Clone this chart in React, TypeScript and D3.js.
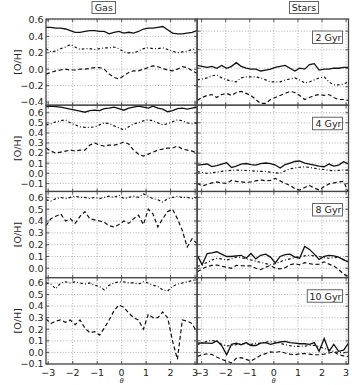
import React from "react";
import * as d3 from "d3";

// ---------- data ----------
const thetaGas = [-3.09, -2.89, -2.69, -2.49, -2.29, -2.1, -1.9, -1.7, -1.5, -1.3, -1.1, -0.9, -0.71, -0.51, -0.31, -0.11, 0.09, 0.29, 0.49, 0.69, 0.89, 1.09, 1.28, 1.48, 1.68, 1.88, 2.08, 2.28, 2.48, 2.68, 2.88, 3.08];
const thetaStars = [-3.18, -2.98, -2.77, -2.57, -2.37, -2.17, -1.96, -1.76, -1.56, -1.36, -1.15, -0.95, -0.75, -0.55, -0.34, -0.14, 0.06, 0.26, 0.47, 0.67, 0.87, 1.07, 1.28, 1.48, 1.68, 1.88, 2.09, 2.29, 2.49, 2.69, 2.9, 3.1];

const ageLabels = ["2 Gyr", "4 Gyr", "8 Gyr", "10 Gyr"];
const columnTitles = ["Gas", "Stars"];
const xTickValues = [-3, -2, -1, 0, 1, 2, 3];

// Gas, 2 Gyr
const gas2Solid = [0.51, 0.51, 0.5, 0.5, 0.49, 0.47, 0.45, 0.45, 0.46, 0.47, 0.47, 0.46, 0.46, 0.43, 0.45, 0.46, 0.44, 0.45, 0.44, 0.46, 0.49, 0.5, 0.5, 0.51, 0.52, 0.48, 0.44, 0.43, 0.43, 0.44, 0.45, 0.47];
const gas2Dotted = [0.25, 0.21, 0.22, 0.25, 0.27, 0.3, 0.27, 0.24, 0.25, 0.25, 0.24, 0.25, 0.26, 0.26, 0.27, 0.25, 0.21, 0.2, 0.2, 0.22, 0.25, 0.26, 0.25, 0.25, 0.26, 0.24, 0.22, 0.2, 0.21, 0.22, 0.24, 0.25];
const gas2Dashed = [-0.06, -0.04, -0.02, -0.01, 0.0, -0.01, -0.01, 0.0, 0.0, 0.01, 0.02, 0.02, 0.0, -0.06, -0.1, -0.12, -0.08, -0.04, -0.02, -0.02, 0.0, 0.02, 0.04, 0.03, 0.01, -0.01, -0.02, 0.0, 0.03, 0.02, -0.02, -0.05];
// Gas, 4 Gyr
const gas4Solid = [0.66, 0.665, 0.66, 0.655, 0.645, 0.635, 0.625, 0.615, 0.605, 0.62, 0.625, 0.62, 0.64, 0.645, 0.655, 0.64, 0.625, 0.645, 0.655, 0.665, 0.655, 0.645, 0.665, 0.645, 0.635, 0.61, 0.62, 0.64, 0.645, 0.635, 0.645, 0.655];
const gas4Dotted = [0.48, 0.49, 0.51, 0.52, 0.53, 0.5, 0.48, 0.46, 0.455, 0.455, 0.46, 0.48, 0.5, 0.49, 0.47, 0.45, 0.43, 0.46, 0.49, 0.5, 0.52, 0.53, 0.52, 0.5, 0.48, 0.49, 0.51, 0.53, 0.52, 0.5, 0.49, 0.5];
const gas4Dashed = [0.25, 0.22, 0.2, 0.21, 0.22, 0.23, 0.22, 0.23, 0.23, 0.28, 0.3, 0.28, 0.27, 0.28, 0.28, 0.29, 0.31, 0.29, 0.23, 0.19, 0.17, 0.19, 0.21, 0.23, 0.24, 0.25, 0.25, 0.27, 0.24, 0.23, 0.22, 0.2];
// Gas, 8 Gyr
const gas8Dotted = [0.58, 0.57, 0.59, 0.6, 0.59, 0.6, 0.61, 0.6, 0.6, 0.59, 0.6, 0.59, 0.6, 0.61, 0.6, 0.62, 0.59, 0.6, 0.61, 0.6, 0.63, 0.61, 0.59, 0.58, 0.56, 0.59, 0.6, 0.61, 0.6, 0.6, 0.59, 0.6];
const gas8Dashed = [0.36, 0.42, 0.44, 0.46, 0.4, 0.42, 0.38, 0.44, 0.48, 0.42, 0.41, 0.4, 0.39, 0.36, 0.35, 0.37, 0.4, 0.38, 0.42, 0.45, 0.37, 0.5, 0.46, 0.35, 0.42, 0.48, 0.5, 0.42, 0.32, 0.18, 0.25, 0.21];
// Gas, 10 Gyr
const gas10Dotted = [0.6, 0.59, 0.55, 0.6, 0.61, 0.6, 0.61, 0.6, 0.59, 0.6, 0.58, 0.57, 0.54, 0.58, 0.6, 0.61, 0.61, 0.6, 0.6, 0.59, 0.61, 0.6, 0.58, 0.57, 0.54, 0.53, 0.57, 0.59, 0.6, 0.61, 0.62, 0.63];
const gas10Dashed = [0.29, 0.25, 0.27, 0.28, 0.26, 0.28, 0.24, 0.28, 0.21, 0.17, 0.18, 0.15, 0.21, 0.28, 0.36, 0.41, 0.39, 0.34, 0.3, 0.28, 0.2, 0.33, 0.3, 0.3, 0.35, 0.3, 0.1, -0.06, 0.28, 0.27, 0.25, 0.17];

// Stars, 2 Gyr
const stars2Solid = [-0.185, -0.19, -0.195, -0.19, -0.2, -0.185, -0.2, -0.19, -0.17, -0.19, -0.2, -0.205, -0.205, -0.215, -0.21, -0.205, -0.195, -0.19, -0.185, -0.2, -0.215, -0.2, -0.205, -0.18, -0.175, -0.21, -0.205, -0.205, -0.2, -0.2, -0.195, -0.195];
const stars2Dotted = [-0.263, -0.258, -0.252, -0.241, -0.236, -0.252, -0.263, -0.269, -0.274, -0.252, -0.247, -0.247, -0.247, -0.252, -0.263, -0.274, -0.274, -0.274, -0.263, -0.258, -0.252, -0.263, -0.279, -0.274, -0.263, -0.252, -0.247, -0.274, -0.29, -0.29, -0.285, -0.274];
const stars2Dashed = [-0.374, -0.358, -0.347, -0.342, -0.358, -0.342, -0.336, -0.347, -0.331, -0.325, -0.336, -0.347, -0.369, -0.39, -0.39, -0.369, -0.358, -0.347, -0.336, -0.325, -0.331, -0.347, -0.369, -0.358, -0.347, -0.342, -0.347, -0.342, -0.358, -0.369, -0.369, -0.374];
// Stars, 4 Gyr
const stars4Solid = [0.082, 0.087, 0.092, 0.067, 0.077, 0.092, 0.105, 0.057, 0.072, 0.092, 0.097, 0.087, 0.082, 0.097, 0.102, 0.097, 0.082, 0.052, 0.087, 0.102, 0.117, 0.122, 0.102, 0.092, 0.082, 0.072, 0.065, 0.092, 0.072, 0.082, 0.115, 0.092];
const stars4Dotted = [0.016, 0.008, 0.0, 0.005, 0.01, 0.02, 0.025, 0.03, 0.032, 0.03, 0.028, 0.025, 0.022, 0.02, 0.018, 0.012, 0.004, 0.0, 0.025, 0.045, 0.052, 0.06, 0.065, 0.058, 0.05, 0.042, 0.038, 0.03, 0.025, 0.03, 0.032, 0.032];
const stars4Dashed = [-0.1, -0.125, -0.11, -0.095, -0.085, -0.095, -0.1, -0.07, -0.08, -0.085, -0.09, -0.085, -0.075, -0.065, -0.075, -0.07, -0.05, -0.075, -0.1, -0.12, -0.15, -0.165, -0.14, -0.12, -0.145, -0.165, -0.13, -0.105, -0.095, -0.085, -0.08, -0.19];
// Stars, 8 Gyr
const stars8Solid = [0.11, 0.03, 0.125, 0.13, 0.14, 0.12, 0.1, 0.1, 0.105, 0.11, 0.085, 0.125, 0.08, 0.11, 0.12, 0.095, 0.045, 0.1, 0.115, 0.12, 0.095, 0.085, 0.185, 0.16, 0.12, 0.075, 0.1, 0.11, 0.105, 0.095, 0.07, 0.055];
const stars8Dotted = [0.015, 0.03, 0.05, 0.07, 0.085, 0.08, 0.07, 0.08, 0.095, 0.09, 0.08, 0.07, 0.06, 0.05, 0.04, 0.03, 0.04, 0.055, 0.07, 0.08, 0.09, 0.1, 0.105, 0.11, 0.105, 0.1, 0.09, 0.085, 0.09, 0.095, 0.075, 0.055];
const stars8Dashed = [-0.03, -0.005, 0.015, 0.025, 0.028, 0.018, 0.008, 0.0, 0.025, 0.022, 0.02, 0.02, 0.0, -0.012, 0.01, 0.025, 0.0, -0.005, 0.005, 0.03, 0.04, 0.03, 0.048, 0.04, 0.032, 0.035, 0.055, 0.035, 0.02, -0.01, -0.05, -0.07];
// Stars, 10 Gyr
const stars10Solid = [0.08, 0.083, 0.08, 0.078, 0.1, 0.06, -0.02, 0.07, 0.08, 0.066, 0.085, 0.06, 0.06, 0.08, 0.085, 0.07, 0.08, 0.09, 0.095, 0.085, 0.08, 0.075, 0.075, 0.07, 0.085, 0.01, 0.12, 0.01, 0.07, 0.01, 0.02, 0.08];
const stars10Dotted = [0.066, 0.085, 0.095, 0.105, 0.095, 0.07, 0.055, 0.06, 0.068, 0.078, 0.075, 0.07, 0.078, 0.08, 0.09, 0.092, 0.09, 0.08, 0.066, 0.058, 0.052, 0.052, 0.055, 0.06, 0.062, 0.05, 0.035, 0.02, 0.008, 0.0, -0.005, 0.01];
const stars10Dashed = [-0.035, -0.02, -0.013, -0.018, -0.04, -0.06, -0.075, -0.09, -0.05, -0.045, -0.06, -0.075, -0.05, -0.025, -0.01, 0.005, 0.0, 0.008, -0.005, -0.015, -0.02, -0.012, -0.01, -0.015, -0.02, -0.02, -0.015, -0.005, 0.005, -0.02, -0.03, -0.035];

// y-axis domains and ticks per row
const gasYDomains: [number, number][] = [[-0.44, 0.612], [-0.18, 0.674], [-0.08, 0.65], [-0.1, 0.645]];
const starsYDomains: [number, number][] = [[-0.4, 0.066], [-0.18, 0.674], [-0.08, 0.65], [-0.1, 0.645]];
const gasYTicks = [
  [-0.4, -0.2, 0.0, 0.2, 0.4, 0.6],
  [-0.1, 0.0, 0.1, 0.2, 0.3, 0.4, 0.5, 0.6],
  [0.0, 0.1, 0.2, 0.3, 0.4, 0.5, 0.6],
  [-0.1, 0.0, 0.1, 0.2, 0.3, 0.4, 0.5, 0.6],
];
const starsYTicks = [
  [-0.4, -0.3, -0.2, -0.1, 0.0],
  [-0.1, 0.0, 0.1, 0.2, 0.3, 0.4, 0.5, 0.6],
  [0.0, 0.1, 0.2, 0.3, 0.4, 0.5, 0.6],
  [-0.1, 0.0, 0.1, 0.2, 0.3, 0.4, 0.5, 0.6],
];
const gasXDomain: [number, number] = [-3.09, 3.08];
const starsXDomain: [number, number] = [-3.18, 3.1];

const gasRows = [
  [gas2Solid, gas2Dotted, gas2Dashed],
  [gas4Solid, gas4Dotted, gas4Dashed],
  [null, gas8Dotted, gas8Dashed],
  [null, gas10Dotted, gas10Dashed],
];
const starsRows = [
  [stars2Solid, stars2Dotted, stars2Dashed],
  [stars4Solid, stars4Dotted, stars4Dashed],
  [stars8Solid, stars8Dotted, stars8Dashed],
  [stars10Solid, stars10Dotted, stars10Dashed],
];

// ---------- layout / style ----------
const W = 352;
const H = 385;
const COLS: [number, number][] = [[46, 197], [197.3, 348.5]];
const ROW_TOP = [19, 105.25, 191.5, 277.75];
const ROW_H = 86.25;
const FONT = "DejaVu Sans, Verdana, sans-serif";
const FS = 9.5;
const DASHES = [null, "2.6,2.2,0.9,2.2", "4,2.6"];
const fmtY = d3.format(".1f");
const fmtX = d3.format("d");

type PanelProps = {
  id: string;
  x0: number; x1: number; y0: number; y1: number;
  xDomain: [number, number];
  yDomain: [number, number];
  yTicks: number[];
  theta: number[];
  series: (number[] | null)[];
  showY: boolean;
  showX: boolean;
  age: string | null;
};

function Panel(p: PanelProps) {
  const xs = d3.scaleLinear().domain(p.xDomain).range([p.x0, p.x1]);
  const ys = d3.scaleLinear().domain(p.yDomain).range([p.y1, p.y0]);
  const line = d3.line<[number, number]>().x((d) => xs(d[0])).y((d) => ys(d[1]));
  const tickLen = 3;
  const ageW = p.age ? p.age.length * 5.2 + 2 : 0;
  return (
    <g>
      <defs>
        <clipPath id={p.id}>
          <rect x={p.x0} y={p.y0} width={p.x1 - p.x0} height={p.y1 - p.y0} />
        </clipPath>
      </defs>
      <rect x={p.x0} y={p.y0} width={p.x1 - p.x0} height={p.y1 - p.y0} fill="#fff" />
      {/* grid */}
      <g stroke="#9a9a9a" strokeWidth={0.8} strokeDasharray="1,1.8" clipPath={`url(#${p.id})`}>
        {xTickValues.map((t) => (
          <line key={"gx" + t} x1={xs(t)} x2={xs(t)} y1={p.y0} y2={p.y1} />
        ))}
        {p.yTicks.map((t) => (
          <line key={"gy" + t} x1={p.x0} x2={p.x1} y1={ys(t)} y2={ys(t)} />
        ))}
      </g>
      {/* data lines */}
      <g clipPath={`url(#${p.id})`} fill="none" stroke="#111">
        {p.series.map((vals, k) =>
          vals ? (
            <path
              key={k}
              d={line(p.theta.map((t, i) => [t, vals[i]] as [number, number])) || ""}
              strokeWidth={k === 0 ? 1.3 : 1.2}
              strokeDasharray={DASHES[k] || undefined}
            />
          ) : null
        )}
      </g>
      {/* ticks (inward, all sides) */}
      <g stroke="#333" strokeWidth={0.8}>
        {xTickValues.map((t) => (
          <g key={"tx" + t}>
            <line x1={xs(t)} x2={xs(t)} y1={p.y1} y2={p.y1 - tickLen} />
            <line x1={xs(t)} x2={xs(t)} y1={p.y0} y2={p.y0 + tickLen} />
          </g>
        ))}
        {p.yTicks.map((t) => (
          <g key={"ty" + t}>
            <line x1={p.x0} x2={p.x0 + tickLen} y1={ys(t)} y2={ys(t)} />
            <line x1={p.x1} x2={p.x1 - tickLen} y1={ys(t)} y2={ys(t)} />
          </g>
        ))}
      </g>
      {/* spines */}
      <rect x={p.x0} y={p.y0} width={p.x1 - p.x0} height={p.y1 - p.y0} fill="none" stroke="#444" strokeWidth={1.3} />
      {p.showY && (
        <g fontFamily={FONT} fontSize={FS} fill="#222" textAnchor="end">
          {p.yTicks.map((t) => (
            <text key={"ly" + t} x={p.x0 - 2.5} y={ys(t)} dy="0.35em">
              {fmtY(t)}
            </text>
          ))}
        </g>
      )}
      {p.showX && (
        <g fontFamily={FONT} fontSize={FS} fill="#222" textAnchor="middle">
          {xTickValues.map((t) => (
            <text key={"lx" + t} x={xs(t)} y={p.y1 + 11.5}>
              {fmtX(t)}
            </text>
          ))}
          <text x={xs(0)} y={p.y1 + 18.5} fontSize={6.5} fontStyle="italic">
            θ
          </text>
        </g>
      )}
      {p.age && (
        <g fontFamily={FONT} fontSize={FS} fill="#222">
          <rect x={p.x1 - 8 - ageW} y={p.y0 + 12} width={ageW + 2} height={12.5} fill="#fff" stroke="#666" strokeWidth={1} />
          <text x={p.x1 - 7} y={p.y0 + 21.8} textAnchor="end">
            {p.age}
          </text>
        </g>
      )}
    </g>
  );
}

export default function App() {
  const panels: React.ReactNode[] = [];
  ROW_TOP.forEach((top, r) => {
    const y0 = top;
    const y1 = top + ROW_H;
    panels.push(
      <Panel
        key={"g" + r}
        id={"clip-g" + r}
        x0={COLS[0][0]} x1={COLS[0][1]} y0={y0} y1={y1}
        xDomain={gasXDomain}
        yDomain={gasYDomains[r]}
        yTicks={gasYTicks[r]}
        theta={thetaGas}
        series={gasRows[r]}
        showY={true}
        showX={r === 3}
        age={null}
      />
    );
    panels.push(
      <Panel
        key={"s" + r}
        id={"clip-s" + r}
        x0={COLS[1][0]} x1={COLS[1][1]} y0={y0} y1={y1}
        xDomain={starsXDomain}
        yDomain={starsYDomains[r]}
        yTicks={starsYTicks[r]}
        theta={thetaStars}
        series={starsRows[r]}
        showY={false}
        showX={r === 3}
        age={ageLabels[r]}
      />
    );
  });
  return (
    <svg width={W} height={H} style={{ position: "absolute", left: 0, top: 0, background: "#fff" }}>
      {panels}
      {ROW_TOP.map((top, r) => (
        <text
          key={"yl" + r}
          transform={`translate(17.5,${top + ROW_H / 2}) rotate(-90)`}
          textAnchor="middle"
          dy="0.35em"
          fontFamily={FONT}
          fontSize={FS}
          fill="#222"
        >
          [O/H]
        </text>
      ))}
      {/* column titles */}
      <g fontFamily={FONT} fontSize={FS} fill="#222">
        <rect x={92} y={1.5} width={23.5} height={12} fill="#fff" stroke="#666" strokeWidth={1} />
        <text x={103.8} y={11} textAnchor="middle">{columnTitles[0]}</text>
        <rect x={289.5} y={1.5} width={29} height={12} fill="#fff" stroke="#666" strokeWidth={1} />
        <text x={304} y={11} textAnchor="middle">{columnTitles[1]}</text>
      </g>
    </svg>
  );
}
